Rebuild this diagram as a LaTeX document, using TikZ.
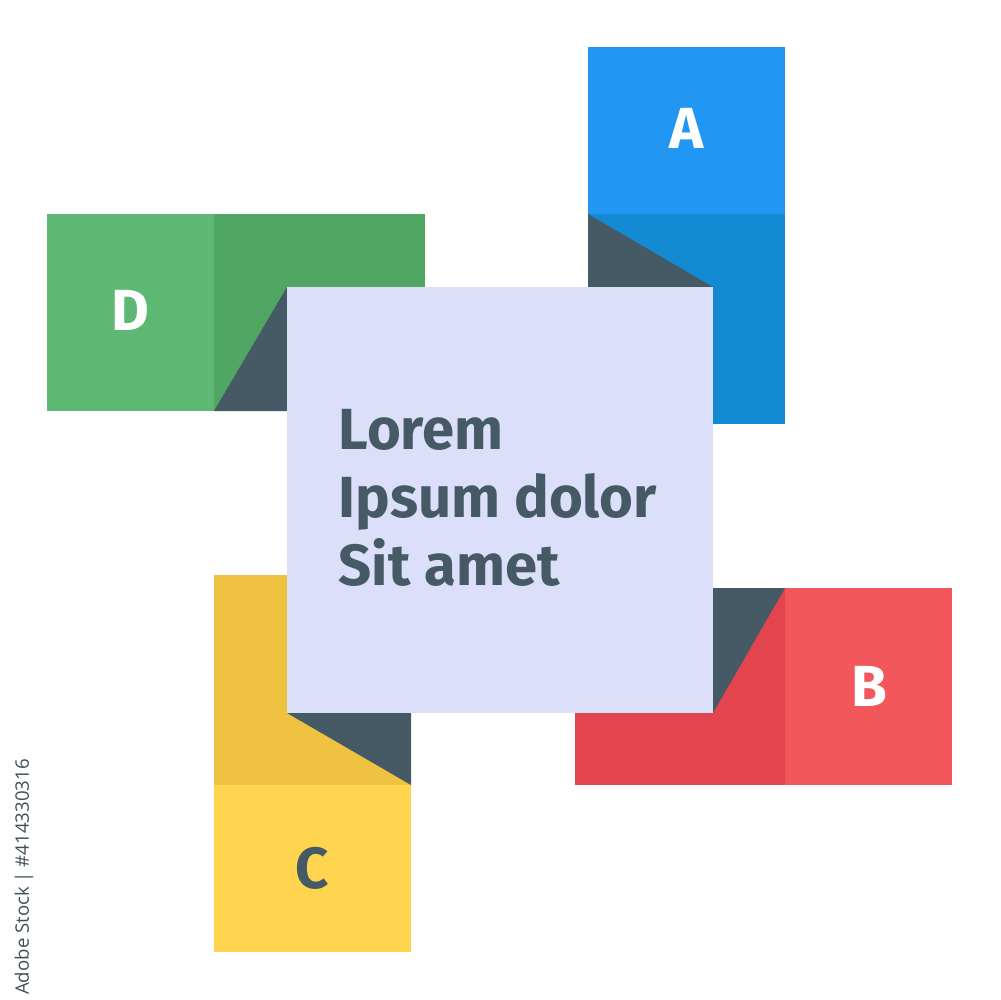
\documentclass[tikz,border=0pt]{standalone}
\usepackage{fontspec}
\setmainfont{Fira Sans}
\newfontfamily\stampfont{Open Sans}
\usepackage{tikz}
\usetikzlibrary{positioning}
\definecolor{tabblue}{RGB}{33,150,243}
\definecolor{tabbluedark}{RGB}{20,138,211}
\definecolor{tabred}{RGB}{242,87,92}
\definecolor{tabreddark}{RGB}{226,69,78}
\definecolor{tabyellow}{RGB}{255,213,79}
\definecolor{tabyellowdark}{RGB}{240,194,66}
\definecolor{tabgreen}{RGB}{93,184,116}
\definecolor{tabgreendark}{RGB}{79,167,99}
\definecolor{slate}{RGB}{69,90,100}
\definecolor{lavender}{RGB}{220,223,250}

\begin{document}
\begin{tikzpicture}[x=0.1mm,y=-0.1mm,
    letter/.style={font=\fontsize{16.5}{18}\selectfont\bfseries,text=white,inner sep=0pt},
    lineof/.style={anchor=base west,font=\fontsize{16.5}{19}\selectfont\bfseries,text=slate,inner sep=0pt}]
        \useasboundingbox (0,0) rectangle (1000,1000);

        % Tab A
        \fill[tabblue] (588,47) rectangle (785,214);
        \fill[tabbluedark] (588,214) rectangle (785,424);
        \fill[slate] (588,214) -- (713,287) -- (588,287) -- cycle;
        \node[letter] (a) at (687,128) {A};

        % Tab B
        \fill[tabred] (785,588) rectangle (952,785);
        \fill[tabreddark] (575,588) rectangle (785,785);
        \fill[slate] (713,588) -- (785,588) -- (713,713) -- cycle;
        \node[letter] (b) at (869,686) {B};

        % Tab C
        \fill[tabyellow] (214,785) rectangle (411,952);
        \fill[tabyellowdark] (214,575) rectangle (411,785);
        \fill[slate] (287,713) -- (411,713) -- (411,785) -- cycle;
        \node[letter,text=slate] (c) at (312,868) {C};

        % Tab D
        \fill[tabgreen] (47,214) rectangle (214,411);
        \fill[tabgreendark] (214,214) rectangle (425,411);
        \fill[slate] (214,411) -- (287,287) -- (287,411) -- cycle;
        \node[letter] (d) at (130,310) {D};

        % Centre card
        \fill[lavender] (287,287) rectangle (713,713);
        \node[lineof] (l1) at (338,449) {Lorem};
        \node[lineof] (l2) at (338,517) {Ipsum dolor};
        \node[lineof] (l3) at (338,585) {Sit amet};

        % Stock number
        \node[rotate=90,text=slate!90!black,inner sep=0pt,font=\stampfont\fontsize{5.3}{6}\selectfont] (id) at (24,877) {Adobe Stock | \#414330316};
    \end{tikzpicture}
\end{document}
